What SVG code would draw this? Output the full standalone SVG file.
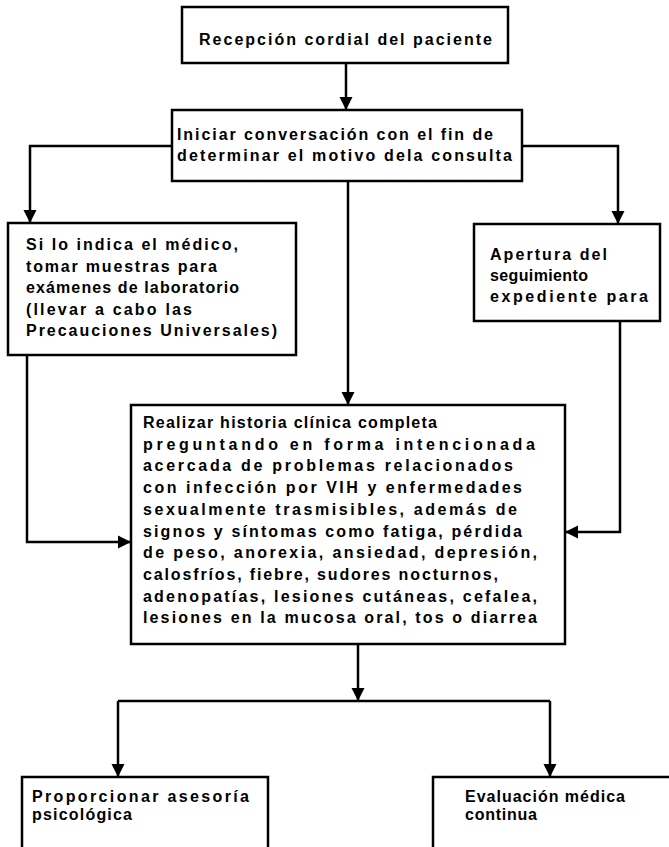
<svg xmlns="http://www.w3.org/2000/svg" width="669" height="847" viewBox="0 0 669 847">
<defs>
<marker id="arr" viewBox="0 0 12 12" refX="12" refY="6" markerWidth="13" markerHeight="14" markerUnits="userSpaceOnUse" orient="auto">
<path d="M0,0 L12,6 L0,12 z" fill="#000"/>
</marker>
<style>
rect{fill:#fff;stroke:#000;stroke-width:2.5}
text{font-family:"Liberation Sans",Arial,sans-serif;font-weight:bold;font-size:16px;fill:#000}
.c path{fill:none;stroke:#000;stroke-width:2.5}
</style>
</defs>
<rect x="0" y="0" width="669" height="847" style="fill:#fff;stroke:none"/>
<g class="c" id="connectors">
<path d="M346,63 V110" marker-end="url(#arr)"/>
<path d="M172,146 H30 V223" marker-end="url(#arr)"/>
<path d="M522,146 H618 V224" marker-end="url(#arr)"/>
<path d="M348,181 V405" marker-end="url(#arr)"/>
<path d="M27,355 V542 H131" marker-end="url(#arr)"/>
<path d="M620,321 V532 H565" marker-end="url(#arr)"/>
<path d="M358,644 V701" marker-end="url(#arr)"/>
<path d="M118,701 H550"/>
<path d="M118,701 V777" marker-end="url(#arr)"/>
<path d="M550,701 V777" marker-end="url(#arr)"/>
</g>
<g id="n1">
<rect x="182" y="7" width="326" height="56"/>
<text x="199" y="45" textLength="293">Recepción cordial del paciente</text>
</g>
<g id="n2">
<rect x="172" y="110" width="350" height="71"/>
<text x="177" y="140" textLength="316">Iniciar conversación con el fin de</text>
<text x="177" y="161" textLength="335">determinar el motivo dela consulta</text>
</g>
<g id="n3">
<rect x="8" y="223" width="288" height="132"/>
<text x="26" y="250" textLength="212">Si lo indica el médico,</text>
<text x="26" y="271.5" textLength="191">tomar muestras para</text>
<text x="26" y="293" textLength="213">exámenes de laboratorio</text>
<text x="26" y="314.5" textLength="166">(llevar a cabo las</text>
<text x="26" y="336" textLength="251">Precauciones Universales)</text>
</g>
<g id="n4">
<rect x="474" y="224" width="186" height="97"/>
<text x="490" y="260" textLength="117">Apertura del</text>
<text x="490" y="281" textLength="98">seguimiento</text>
<text x="490" y="302" textLength="158">expediente para</text>
</g>
<g id="n5">
<rect x="131" y="405" width="434" height="239"/>
<text x="143" y="428" textLength="294">Realizar historia clínica completa</text>
<text x="143" y="449.7" textLength="392">preguntando en forma intencionada</text>
<text x="143" y="471.4" textLength="370">acercada de problemas relacionados</text>
<text x="143" y="493.1" textLength="379">con infección por VIH y enfermedades</text>
<text x="143" y="514.8" textLength="374">sexualmente trasmisibles, además de</text>
<text x="143" y="536.5" textLength="379">signos y síntomas como fatiga, pérdida</text>
<text x="143" y="558.2" textLength="394">de peso, anorexia, ansiedad, depresión,</text>
<text x="143" y="579.9" textLength="355">calosfríos, fiebre, sudores nocturnos,</text>
<text x="143" y="601.6" textLength="394">adenopatías, lesiones cutáneas, cefalea,</text>
<text x="143" y="623.3" textLength="394">lesiones en la mucosa oral, tos o diarrea</text>
</g>
<g id="n6">
<rect x="22" y="777" width="246" height="90"/>
<text x="32" y="802" textLength="217">Proporcionar asesoría</text>
<text x="32" y="820" textLength="100">psicológica</text>
</g>
<g id="n7">
<rect x="433" y="777" width="250" height="90"/>
<text x="465" y="802" textLength="160">Evaluación médica</text>
<text x="465" y="820" textLength="72">continua</text>
</g>
</svg>
